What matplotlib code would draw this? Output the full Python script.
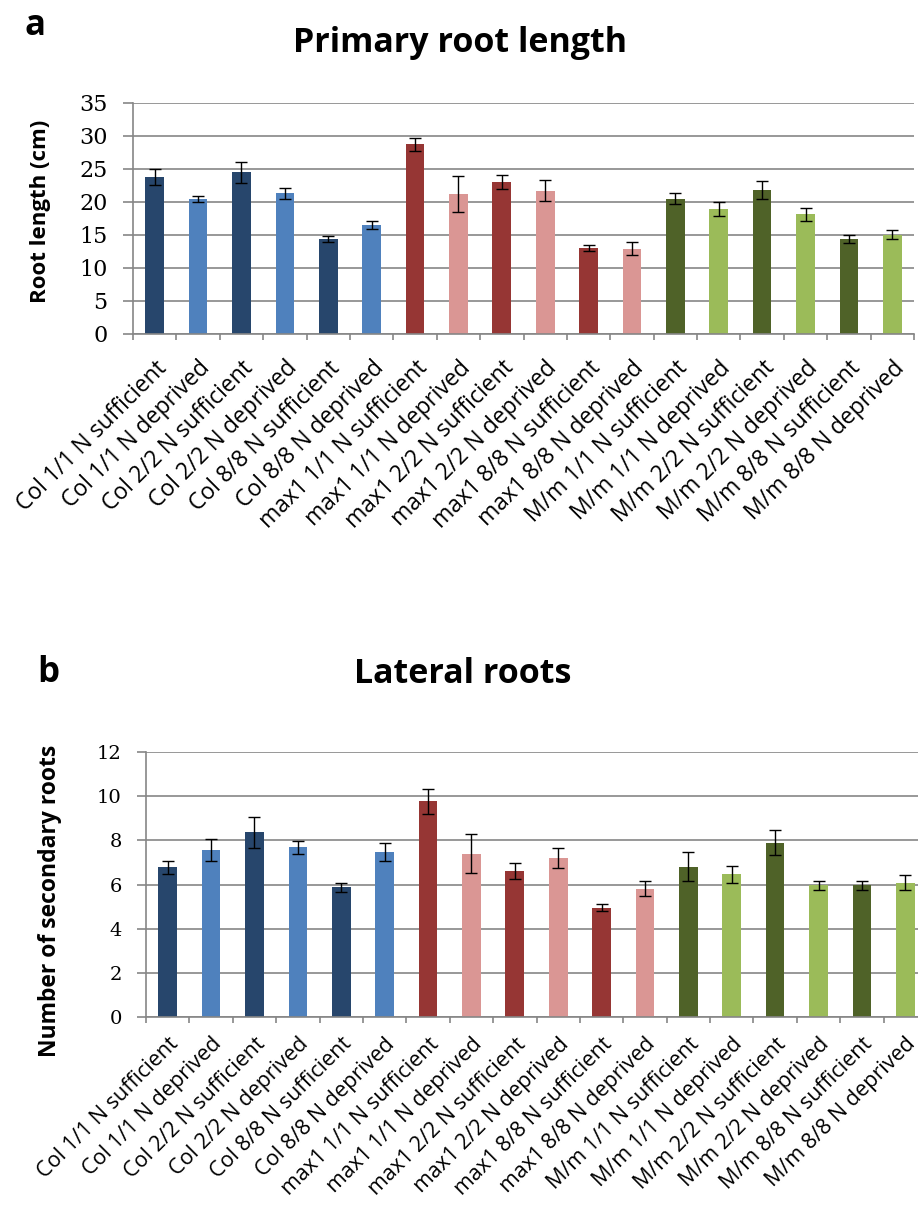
import numpy as np
import matplotlib
matplotlib.use('Agg')
import matplotlib.pyplot as plt

# categories (genotype, N ratio, treatment)
labels = ['Col 1/1 N sufficient', 'Col 1/1 N deprived', 'Col 2/2 N sufficient', 'Col 2/2 N deprived',
          'Col 8/8 N sufficient', 'Col 8/8 N deprived', 'max1 1/1 N sufficient', 'max1 1/1 N deprived',
          'max1 2/2 N sufficient', 'max1 2/2 N deprived', 'max1 8/8 N sufficient', 'max1 8/8 N deprived',
          'M/m 1/1 N sufficient', 'M/m 1/1 N deprived', 'M/m 2/2 N sufficient', 'M/m 2/2 N deprived',
          'M/m 8/8 N sufficient', 'M/m 8/8 N deprived']

# panel a: primary root length (cm)
root_len = [23.8, 20.4, 24.5, 21.3, 14.4, 16.5, 28.7, 21.2, 23.0, 21.7, 13.0, 12.9,
            20.5, 18.9, 21.8, 18.1, 14.4, 15.0]
root_err = [1.2, 0.5, 1.6, 0.8, 0.5, 0.6, 1.0, 2.7, 1.1, 1.6, 0.5, 1.0,
            0.9, 1.1, 1.3, 1.0, 0.6, 0.7]

# panel b: number of lateral roots
lat_n = [6.78, 7.55, 8.37, 7.68, 5.88, 7.47, 9.76, 7.4, 6.62, 7.2, 4.95, 5.81,
         6.8, 6.46, 7.9, 5.97, 5.97, 6.08]
lat_err = [0.3, 0.5, 0.7, 0.28, 0.2, 0.42, 0.58, 0.88, 0.37, 0.47, 0.17, 0.34,
           0.66, 0.38, 0.58, 0.2, 0.2, 0.34]

colors = ['#27466C', '#4F81BD'] * 3 + ['#963634', '#DA9694'] * 3 + ['#4F6228', '#9BBB59'] * 3

GRID = '#868686'
TITLE_FONT = 'Open Sans'
x = np.arange(len(labels))

fig = plt.figure(figsize=(9.18, 12.11), dpi=100)


def panel(rect, vals, errs, ymax, ystep, tick_fs, ticklen, tickpad, lab_fs, lab_pad):
    ax = fig.add_axes(rect)
    ax.bar(x, vals, width=0.43, color=colors, zorder=2)
    ax.errorbar(x, vals, yerr=errs, fmt='none', ecolor='black', elinewidth=1.0,
                capsize=4.5, capthick=1.0, zorder=3)
    ax.set_xlim(-0.5, len(labels) - 0.5)
    ax.set_ylim(0, ymax)
    ax.set_yticks(np.arange(0, ymax + 0.01, ystep))
    ax.yaxis.grid(True, color=GRID, lw=1.2)
    ax.set_axisbelow(True)
    for s in ['top', 'right']:
        ax.spines[s].set_visible(False)
    for s in ['left', 'bottom']:
        ax.spines[s].set_color(GRID)
        ax.spines[s].set_linewidth(1.2)
    ax.tick_params(axis='y', length=ticklen, width=1.2, color=GRID, pad=tickpad)
    for t in ax.get_yticklabels():
        t.set_fontfamily('DejaVu Serif')
        t.set_fontsize(tick_fs)
    # labels at bar centres, tick marks between categories
    ax.set_xticks(x)
    ax.set_xticks(np.arange(-0.5, len(labels)), minor=True)
    ax.tick_params(axis='x', which='major', length=0, pad=lab_pad)
    ax.tick_params(axis='x', which='minor', length=4.5, width=1.2, color=GRID)
    ax.set_xticklabels(labels, rotation=45, ha='right', va='top', rotation_mode='anchor',
                       fontsize=lab_fs, fontfamily='Open Sans')
    return ax


# top: y=35 at 102.7 px, y=0 at 334 px; x spans 133..914 px
panel([133 / 918, 1 - 334 / 1211, 781 / 918, (334 - 102.7) / 1211],
      root_len, root_err, 35, 5, 16, 7.2, 11, 16.5, 16)
# bottom: y=12 at 752 px, y=0 at 1017 px; x spans 146..927 px (cut at right)
panel([146 / 918, 1 - 1017 / 1211, 781 / 918, (1017 - 752) / 1211],
      lat_n, lat_err, 12, 2, 14, 6.5, 11, 15.5, 12)

fig.text(25 / 918, 1 - 35 / 1211, 'a', fontsize=25, fontweight='bold', family=TITLE_FONT)
fig.text(460 / 918, 1 - 52 / 1211, 'Primary root length', fontsize=24.5, fontweight='bold',
         family=TITLE_FONT, ha='center')
fig.text(37 / 918, 1 - 682 / 1211, 'b', fontsize=25, fontweight='bold', family=TITLE_FONT)
fig.text(463 / 918, 1 - 683 / 1211, 'Lateral roots', fontsize=24.5, fontweight='bold',
         family=TITLE_FONT, ha='center')
fig.text(41 / 918, 1 - 211 / 1211, 'Root length (cm)', fontsize=16, fontweight='bold',
         family=TITLE_FONT, rotation=90, ha='center', va='center')
fig.text(50 / 918, 1 - 901 / 1211, 'Number of secondary roots', fontsize=16.5, fontweight='bold',
         family=TITLE_FONT, rotation=90, ha='center', va='center')

fig.savefig('out.png', dpi=100, facecolor='white')
